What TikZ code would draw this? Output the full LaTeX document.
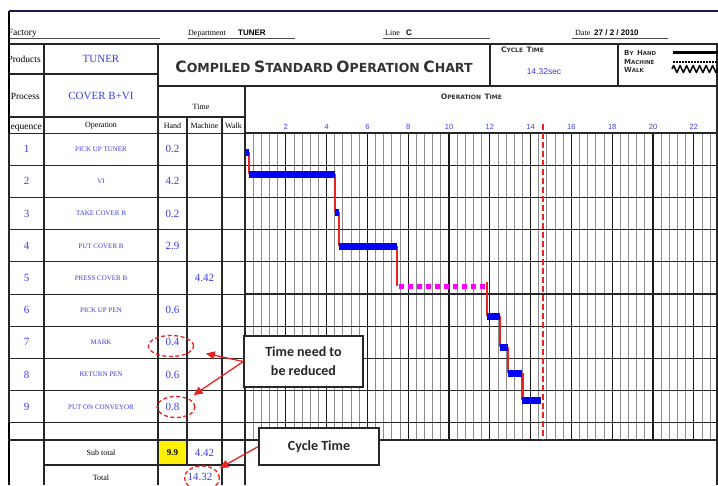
\documentclass[tikz,border=0pt]{standalone}
\usepackage{fontspec}
\setmainfont{Liberation Serif}
\newfontfamily\sansfont{Liberation Sans}
\newfontfamily\widefont{DejaVu Sans}
\newfontfamily\callfont{Carlito}
\usetikzlibrary{matrix,positioning}
\usetikzlibrary{arrows.meta}
\usetikzlibrary{shapes.geometric,decorations.pathmorphing}

\definecolor{inkblue}{RGB}{60,60,225}
\definecolor{barblue}{RGB}{0,0,245}
\definecolor{markred}{RGB}{235,35,35}
\definecolor{barpink}{RGB}{250,0,250}
\definecolor{navy}{RGB}{25,25,80}

% fake small caps: big size, small size, first letter, rest
\newcommand{\scw}[4]{{\fontsize{#1}{#1}\selectfont #3}{\fontsize{#2}{#2}\selectfont #4}}

\tikzset{
  rule/.style={line width=1.1pt, black!85},
  thinrule/.style={line width=0.8pt, black!70},
  minorline/.style={line width=0.9pt, black!45},
  majorline/.style={line width=1.2pt, black!90},
  smalltxt/.style={font=\fontsize{8}{8}\selectfont, inner sep=0pt},
  sidetxt/.style={font=\fontsize{9.5}{9.5}\selectfont, inner sep=0pt, anchor=base east},
  valtxt/.style={font=\fontsize{11}{11}\selectfont, text=inkblue, inner sep=0pt},
  headbold/.style={font=\sansfont\bfseries\fontsize{8}{8}\selectfont, inner sep=0pt},
  ticklabel/.style={font=\sansfont\fontsize{7.5}{7.5}\selectfont, text=inkblue, inner sep=0pt},
  capslabel/.style={font=\widefont\bfseries, text=black!80, inner sep=0pt},
  callout/.style={draw=black!85, line width=1.3pt, fill=white, align=center,
    font=\callfont\bfseries\fontsize{14}{19}\selectfont, text=black!85},
  redring/.style={ellipse, draw=markred, line width=1.3pt, dash pattern=on 4pt off 2.5pt, inner sep=0pt},
  callarrow/.style={markred, line width=1.3pt, -{Triangle[length=9pt,width=8pt]}},
  handbar/.style={barblue, line width=7pt},
  machinebar/.style={barpink, line width=5pt, dash pattern=on 5pt off 4pt},
  linkline/.style={markred, line width=2.5pt},
  cycleline/.style={markred, line width=2.5pt, dash pattern=on 6pt off 3pt},
}

\begin{document}
\begin{tikzpicture}[x=1pt, y=-1pt]
    \useasboundingbox (0,0) rectangle (718,485);

    % frame and header rules
    \draw[navy, line width=2pt] (9,11) -- (718,11);
    \draw[black, line width=2.5pt] (9,11) -- (9,485);
    \draw[thinrule] (10,38) -- (160,38);
    \draw[thinrule] (188,38) -- (295,38);
    \draw[thinrule] (383,38) -- (490,38);
    \draw[thinrule] (572,38) -- (668,38);
    \draw[rule, line width=1.6pt] (9,44) -- (718,44);
    \draw[rule] (9,74) -- (158,74);
    \draw[rule] (158,86) -- (718,86);
    \draw[rule] (9,117) -- (245,117);
    \draw[rule] (44,44) -- (44,133);
    \draw[rule] (158,44) -- (158,133);
    \draw[rule] (187,117) -- (187,133);
    \draw[rule] (222,117) -- (222,133);
    \draw[rule] (245,86) -- (245,133);
    \draw[rule] (490,44) -- (490,86);
    \draw[rule] (618,44) -- (618,86);
    \draw[rule] (717,44) -- (717,485);

    % header texts
    \begin{scope}
        \clip (10,0) rectangle (718,485);
        \node[sidetxt] (factory) at (37,35) {Factory};
        \node[sidetxt] (products) at (41,62) {Products};
        \node[sidetxt] (process) at (40,99) {Process};
        \node[sidetxt] (sequence) at (42,129) {Sequence};
    \end{scope}
    \node[smalltxt, anchor=base west] (dept) at (188,35) {Department};
    \node[headbold, anchor=base west] (deptval) at (238,35) {TUNER};
    \node[smalltxt, anchor=base west] (line) at (385,35) {Line};
    \node[headbold, anchor=base west] (lineval) at (406,35) {C};
    \node[smalltxt, anchor=base west] (date) at (575,35) {Date};
    \node[headbold, anchor=base west] (dateval) at (594,35) {27 / 2 / 2010};

    \node[valtxt] (prodval) at (101,59) {TUNER};
    \node[valtxt] (procval) at (101,96) {COVER B+VI};
    \node[capslabel] (title) at (324,67)
        {\scw{15.5}{12.5}{C}{OMPILED} \scw{15.5}{12.5}{S}{TANDARD} \scw{15.5}{12.5}{O}{PERATION} \scw{15.5}{12.5}{C}{HART}};
    \node[capslabel, anchor=west] (cyclehead) at (501,50) {\scw{7.5}{6}{C}{YCLE} \scw{7.5}{6}{T}{IME}};
    \node[font=\sansfont\fontsize{8.5}{8.5}\selectfont, text=inkblue, inner sep=0pt] (cycleval) at (544,72) {14.32sec};

    % legend
    \node[capslabel, anchor=west] (byhand) at (624,53) {\scw{7}{5.5}{B}{Y} \scw{7}{5.5}{H}{AND}};
    \node[capslabel, anchor=west] (machine) at (624,62) {\scw{7}{5.5}{M}{ACHINE}};
    \node[capslabel, anchor=west] (walk) at (624,70) {\scw{7}{5.5}{W}{ALK}};
    \draw[line width=3pt] (673,52) -- (718,52);
    \draw[line width=1.6pt, dash pattern=on 2pt off 1pt] (673,62) -- (718,62);
    \draw[line width=1.5pt, line join=round, decorate, decoration={zigzag, segment length=6.5pt, amplitude=3.5pt}] (672,69) -- (718,69);

    \node[smalltxt] (timehead) at (201,107) {Time};
    \node[smalltxt] (ophead) at (101,126) {Operation};
    \node[smalltxt] (handhead) at (172.5,126) {Hand};
    \node[smalltxt] (machhead) at (204.5,126) {Machine};
    \node[smalltxt] (walkhead) at (233.5,126) {Walk};

    % chart grid and bars
    \begin{scope}[shift={(245pt,0pt)}, x=20.4pt]
        \foreach \i in {1,...,58} \draw[minorline] (0.4*\i,133) -- (0.4*\i,440);
        \foreach \t in {2,4,...,22} \draw[majorline] (\t,133) -- (\t,440);
        \foreach \r in {0,...,9} \draw[rule] (0,133+32.2*\r) -- (23.3,133+32.2*\r);
        \draw[rule] (0,440) -- (23.3,440);
        \foreach \t in {2,4,...,22} \node[ticklabel] (tick\t) at (\t,127) {\t};
        \node[capslabel] (optime) at (11.1,97) {\scw{7.5}{6}{O}{PERATION} \scw{7.5}{6}{T}{IME}};

        \foreach \t/\ya/\yb in {0.2/152/174, 4.4/174/212, 4.6/212/246, 7.45/246/286,
                                11.86/282/316, 12.5/316/347, 12.9/347/373, 13.6/373/400}
            \draw[linkline] (\t,\ya) -- (\t,\yb);
        \foreach \a/\b/\yy in {0/0.2/152, 0.2/4.4/174, 4.4/4.6/212, 4.6/7.45/246,
                               11.86/12.5/316, 12.5/12.9/347, 12.9/13.6/373, 13.6/14.5/400}
            \draw[handbar] (\a,\yy) -- (\b,\yy);
        \draw[machinebar] (7.55,286) -- (11.86,286);
        \draw[cycleline] (14.6,124) -- (14.6,440);
    \end{scope}

    % operation table
    \matrix (steps) at (8.5,132.5) [anchor=north west, inner sep=0pt, outer sep=0pt,
        row sep=-1.1pt, column sep=-1.1pt,
        nodes={draw=black!85, line width=1.1pt, inner sep=0pt, outer sep=0pt,
               minimum height=32.2pt, anchor=center, text=inkblue},
        column 1/.style={nodes={minimum width=35pt, font=\fontsize{11}{11}\selectfont}},
        column 2/.style={nodes={minimum width=114pt, font=\fontsize{7}{7}\selectfont}},
        column 3/.style={nodes={minimum width=29pt, font=\fontsize{11}{11}\selectfont}},
        column 4/.style={nodes={minimum width=35pt, font=\fontsize{11}{11}\selectfont}},
        column 5/.style={nodes={minimum width=23pt}}] {
        \node (s1) {1}; & \node (op1) {PICK UP TUNER}; & \node (h1) {0.2}; & \node (m1) {}; & \node (w1) {}; \\
        \node (s2) {2}; & \node (op2) {VI}; & \node (h2) {4.2}; & \node (m2) {}; & \node (w2) {}; \\
        \node (s3) {3}; & \node (op3) {TAKE COVER B}; & \node (h3) {0.2}; & \node (m3) {}; & \node (w3) {}; \\
        \node (s4) {4}; & \node (op4) {PUT COVER B}; & \node (h4) {2.9}; & \node (m4) {}; & \node (w4) {}; \\
        \node (s5) {5}; & \node (op5) {PRESS COVER B}; & \node (h5) {}; & \node (m5) {4.42}; & \node (w5) {}; \\
        \node (s6) {6}; & \node (op6) {PICK UP PEN}; & \node (h6) {0.6}; & \node (m6) {}; & \node (w6) {}; \\
        \node (s7) {7}; & \node (op7) {MARK}; & \node (h7) {0.4}; & \node (m7) {}; & \node (w7) {}; \\
        \node (s8) {8}; & \node (op8) {RETURN PEN}; & \node (h8) {0.6}; & \node (m8) {}; & \node (w8) {}; \\
        \node (s9) {9}; & \node (op9) {PUT ON CONVEYOR}; & \node (h9) {0.8}; & \node (m9) {}; & \node (w9) {}; \\
    };

    % totals
    \draw[rule] (9,440) -- (245,440);
    \draw[rule] (44,465) -- (245,465);
    \foreach \xx in {44,158,222,245} \draw[rule] (\xx,423) -- (\xx,485);
    \draw[rule] (187,423) -- (187,465);
    \node[draw=black!85, line width=1.1pt, fill=yellow, minimum width=29pt, minimum height=25pt,
          inner sep=0pt, font=\bfseries\fontsize{9}{9}\selectfont] (subhand) at (172.5,452.5) {9.9};
    \node[valtxt] (submach) at (204.5,453) {4.42};
    \node[smalltxt] (subtotal) at (101,453) {Sub total};
    \node[smalltxt] (total) at (101,478) {Total};
    \node[valtxt] (totval) at (200,477) {14.32};

    % remarks
    \node[redring, minimum width=45pt, minimum height=21pt] (ring7) at (171,346) {};
    \node[redring, minimum width=38pt, minimum height=21pt] (ring9) at (176,407) {};
    \node[redring, minimum width=35pt, minimum height=24pt] (ringT) at (202,478) {};
    \node[callout, minimum width=119pt, minimum height=51pt] (reduce) at (303.5,361.5) {Time need to\\be reduced};
    \node[callout, minimum width=120pt, minimum height=37pt] (cycle) at (319,446.5) {Cycle Time};
    \draw[callarrow, shorten >=14pt] (reduce.west) -- (ring7);
    \draw[callarrow, shorten >=6pt] (reduce.west) -- (ring9);
    \draw[callarrow, shorten >=4pt] (cycle.west) -- (ringT);
\end{tikzpicture}
\end{document}
